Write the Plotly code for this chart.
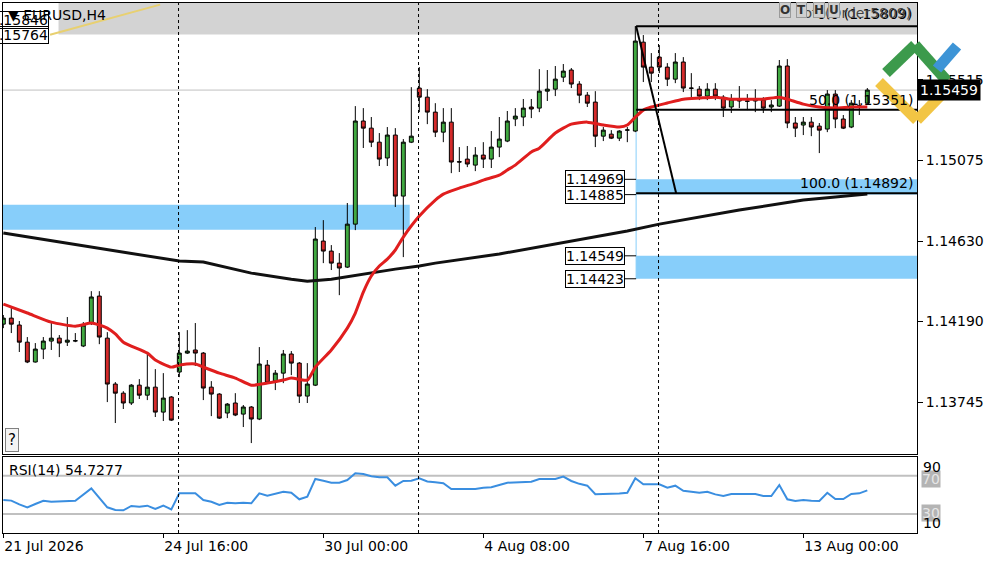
import plotly.graph_objects as go

# ---------------- data ----------------
bar_idx = list(range(109))
opens = [1.14174,1.14207,1.14169,1.14075,1.13966,1.14037,1.14081,1.14097,1.14075,1.14081,
         1.14054,1.14180,1.14328,1.14097,1.13845,1.13795,1.13741,1.13839,1.13784,1.13828,
         1.13691,1.13774,1.13911,1.14015,1.14032,1.14015,1.13828,1.13790,1.13686,1.13741,
         1.13680,1.13719,1.13653,1.13949,1.13861,1.13905,1.14010,1.13960,1.13779,1.13839,
         1.14630,1.14575,1.14509,1.14487,1.14723,1.15289,1.15250,1.15173,1.15086,1.15212,
         1.14877,1.15173,1.15470,1.15420,1.15338,1.15228,1.15283,1.15066,1.15080,1.15047,
         1.15102,1.15080,1.15146,1.15179,1.15300,1.15311,1.15366,1.15360,1.15453,1.15464,
         1.15530,1.15569,1.15492,1.15431,1.15393,1.15206,1.15217,1.15195,1.15239,1.15234,
         1.15722,1.15585,1.15640,1.15585,1.15519,1.15613,1.15470,1.15464,1.15426,1.15464,
         1.15420,1.15366,1.15410,1.15399,1.15399,1.15404,1.15366,1.15371,1.15591,1.15278,
         1.15267,1.15283,1.15261,1.15245,1.15437,1.15300,1.15256,1.15371,1.15387]
highs = [1.14224,1.14262,1.14191,1.14103,1.14070,1.14103,1.14180,1.14114,1.14213,1.14125,
         1.14185,1.14355,1.14355,1.14130,1.13856,1.13806,1.13845,1.13872,1.14010,1.13927,
         1.13905,1.13779,1.14130,1.14141,1.14180,1.14021,1.13861,1.13795,1.13741,1.13795,
         1.13730,1.13724,1.14048,1.13977,1.13922,1.14032,1.14026,1.13966,1.13960,1.14707,
         1.14745,1.14608,1.14564,1.14839,1.15371,1.15360,1.15311,1.15223,1.15256,1.15250,
         1.15190,1.15475,1.15585,1.15464,1.15387,1.15360,1.15360,1.15146,1.15152,1.15146,
         1.15173,1.15234,1.15311,1.15344,1.15360,1.15410,1.15410,1.15574,1.15569,1.15591,
         1.15602,1.15580,1.15508,1.15448,1.15453,1.15256,1.15239,1.15239,1.15256,1.15810,
         1.15761,1.15662,1.15706,1.15607,1.15662,1.15640,1.15552,1.15481,1.15497,1.15497,
         1.15431,1.15437,1.15481,1.15437,1.15464,1.15420,1.15404,1.15624,1.15629,1.15311,
         1.15311,1.15311,1.15278,1.15459,1.15459,1.15322,1.15404,1.15404,1.15470]
lows = [1.14152,1.14125,1.14021,1.13960,1.13963,1.13982,1.14032,1.13993,1.14054,1.14075,
        1.14048,1.14169,1.14064,1.13746,1.13631,1.13708,1.13730,1.13763,1.13757,1.13664,
        1.13642,1.13642,1.13883,1.14010,1.13944,1.13757,1.13669,1.13653,1.13658,1.13669,
        1.13609,1.13521,1.13647,1.13845,1.13812,1.13850,1.13894,1.13741,1.13741,1.13834,
        1.14509,1.14471,1.14333,1.14482,1.14690,1.15141,1.15146,1.15042,1.15042,1.14817,
        1.14542,1.15168,1.15338,1.15272,1.15201,1.15173,1.15003,1.15009,1.15036,1.15014,
        1.15031,1.15031,1.15091,1.15173,1.15261,1.15261,1.15305,1.15338,1.15399,1.15426,
        1.15503,1.15470,1.15387,1.15366,1.15146,1.15179,1.15190,1.15179,1.15173,1.15228,
        1.15503,1.15503,1.15552,1.15481,1.15497,1.15448,1.15420,1.15404,1.15404,1.15404,
        1.15311,1.15333,1.15360,1.15349,1.15338,1.15333,1.15338,1.15366,1.15250,1.15201,
        1.15212,1.15206,1.15113,1.15228,1.15250,1.15245,1.15250,1.15322,1.15387]
closes = [1.14207,1.14174,1.14075,1.13966,1.14037,1.14081,1.14097,1.14070,1.14086,1.14083,
          1.14169,1.14323,1.14103,1.13845,1.13795,1.13741,1.13839,1.13784,1.13828,1.13691,
          1.13768,1.13647,1.14015,1.14026,1.14015,1.13823,1.13790,1.13658,1.13735,1.13675,
          1.13719,1.13653,1.13955,1.13850,1.13905,1.14010,1.13960,1.13779,1.13845,1.14641,
          1.14575,1.14509,1.14482,1.14723,1.15289,1.15250,1.15173,1.15080,1.15212,1.14877,
          1.15173,1.15206,1.15420,1.15338,1.15228,1.15283,1.15064,1.15064,1.15053,1.15102,
          1.15080,1.15146,1.15190,1.15289,1.15316,1.15360,1.15355,1.15453,1.15464,1.15519,
          1.15563,1.15492,1.15431,1.15387,1.15206,1.15239,1.15195,1.15234,1.15240,1.15728,
          1.15585,1.15552,1.15585,1.15519,1.15613,1.15470,1.15469,1.15426,1.15464,1.15426,
          1.15360,1.15410,1.15399,1.15398,1.15410,1.15360,1.15377,1.15591,1.15278,1.15250,
          1.15283,1.15256,1.15239,1.15437,1.15300,1.15250,1.15387,1.15372,1.15459]

ma_fast_idx = [0,3,6,9,11,12,13,14,15,18,19,21,22,24,25,27,29,31,33,35,36,38,39,41,43,44,45,46,47,48,
               49,50,52,54,55,57,59,60,62,63,64,66,67,69,71,73,75,77,78,79,80,81,83,85,87,89,91,93,95,
               97,98,100,102,104,106,108]
ma_fast = [1.14284,1.14235,1.14185,1.14163,1.14180,1.14169,1.14152,1.14120,1.14075,1.14015,1.13977,
           1.13938,1.13949,1.13955,1.13938,1.13905,1.13878,1.13839,1.13850,1.13867,1.13878,1.13867,
           1.13938,1.14032,1.14152,1.14235,1.14350,1.14438,1.14493,1.14531,1.14581,1.14652,1.14767,
           1.14855,1.14888,1.14921,1.14948,1.14965,1.14992,1.15020,1.15047,1.15119,1.15140,1.15223,
           1.15272,1.15283,1.15267,1.15256,1.15267,1.15311,1.15349,1.15366,1.15388,1.15409,1.15415,
           1.15420,1.15409,1.15409,1.15409,1.15420,1.15409,1.15382,1.15366,1.15360,1.15366,1.15366]

ma_slow_idx = [0,8,16,22,25,31,36,38,41,45,49,52,54,62,70,78,82,87,92,100,108]
ma_slow = [1.14674,1.14619,1.14564,1.14520,1.14515,1.14454,1.14421,1.14410,1.14421,1.14449,1.14476,
           1.14493,1.14509,1.14559,1.14624,1.14685,1.14723,1.14762,1.14800,1.14855,1.14888]

rsi_idx = [0,1,2,3,4,5,6,9,11,13,14,15,16,17,18,19,20,21,22,24,25,26,27,28,29,30,31,32,33,34,35,36,
           37,38,39,40,41,42,43,44,45,46,47,48,49,50,51,52,53,54,55,56,58,59,60,61,62,63,66,67,69,70,
           71,72,73,74,75,76,77,78,79,80,81,82,83,84,85,86,87,88,89,90,91,92,93,94,95,96,97,98,99,
           100,101,102,103,104,105,106,107,108]
rsi = [44.6,44.0,40.0,37.0,40.5,43.9,42.8,43.9,56.8,37.0,34.2,33.9,38.4,37.6,38.7,35.2,38.7,34.9,
       51.6,51.6,44.6,42.8,39.4,41.8,41.2,41.8,41.2,51.6,49.1,51.6,53.3,52.3,45.4,48.1,66.6,64.8,
       62.7,62.7,65.5,72.5,71.8,69.5,68.3,68.3,59.6,64.5,64.8,67.3,64.0,63.1,62.1,56.1,56.1,56.1,
       57.5,57.9,60.3,62.7,63.7,66.6,66.6,69.0,64.5,61.5,59.6,50.6,50.9,50.9,51.5,52.2,67.3,61.0,
       61.0,61.0,57.5,59.6,54.3,53.0,52.2,53.3,50.5,48.8,50.9,50.9,50.9,50.9,48.8,48.8,60.3,45.4,
       43.6,44.6,43.9,43.6,52.2,45.7,45.7,50.9,51.6,54.7]

price_ticks = [1.13745, 1.14190, 1.14630, 1.15075, 1.15515]
price_ticktext = ["1.13745", "1.14190", "1.14630", "1.15075", "1.15515"]
date_ticks = [0, 20, 40, 60, 80, 100]
date_labels = ["21 Jul 2026", "24 Jul 16:00", "30 Jul 00:00", "4 Aug 08:00", "7 Aug 16:00", "13 Aug 00:00"]
week_separators = [22, 52, 82]

last_price = 1.15459
fib_start_idx, fib_end_idx = 79.1, 84.1
fib_high, fib_mid, fib_low = 1.15810, 1.15351, 1.14892
zone_left = (1.14692, 1.14829)
zone_right_a = (1.14885, 1.14969)
zone_right_b = (1.14423, 1.14549)
gray_zone_low = 1.15764
top_labels = [1.15846, 1.15764]
rsi_levels = [70, 30]

FONT = "DejaVu Sans"
GREEN = "#41a941"
RED = "#d42a2a"

# ---------------- geometry helpers (paper coords) ----------------
PL, PR, PT, PB = 3, 917, 3, 533
def px(x):
    return (x - PL) / (PR - PL)
def py(y):
    return 1 - (y - PT) / (PB - PT)

fig = go.Figure()

fig.add_trace(go.Candlestick(
    x=bar_idx, open=opens, high=highs, low=lows, close=closes,
    increasing=dict(fillcolor=GREEN, line=dict(color="black", width=1)),
    decreasing=dict(fillcolor=RED, line=dict(color="black", width=1)),
    whiskerwidth=0, xaxis="x", yaxis="y", showlegend=False, hoverinfo="skip"))

fig.add_trace(go.Scatter(x=ma_slow_idx, y=ma_slow, mode="lines",
                         line=dict(color="#111111", width=3), xaxis="x", yaxis="y",
                         showlegend=False, hoverinfo="skip"))
fig.add_trace(go.Scatter(x=ma_fast_idx, y=ma_fast, mode="lines",
                         line=dict(color="#e01e1e", width=3, shape="spline", smoothing=0.6),
                         xaxis="x", yaxis="y", showlegend=False, hoverinfo="skip"))
fig.add_trace(go.Scatter(x=rsi_idx, y=rsi, mode="lines",
                         line=dict(color="#3a8ee0", width=2), xaxis="x2", yaxis="y2",
                         showlegend=False, hoverinfo="skip"))

shapes = []
# background zones
shapes.append(dict(type="rect", xref="x", yref="y", x0=6.9, x1=130, y0=gray_zone_low, y1=1.1600,
                   fillcolor="#d3d3d3", line=dict(width=0), layer="below"))
shapes.append(dict(type="rect", xref="x", yref="y", x0=-2, x1=50.8, y0=zone_left[0], y1=zone_left[1],
                   fillcolor="#87cefa", line=dict(width=0), layer="below"))
for z in (zone_right_a, zone_right_b):
    shapes.append(dict(type="rect", xref="x", yref="y", x0=fib_start_idx, x1=130, y0=z[0], y1=z[1],
                       fillcolor="#87cefa", line=dict(width=0), layer="below"))
shapes.append(dict(type="line", xref="x", yref="y", x0=fib_start_idx, x1=fib_start_idx,
                   y0=1.15228, y1=zone_right_b[0], line=dict(color="#87cefa", width=1), layer="below"))
# current price line
shapes.append(dict(type="line", xref="paper", yref="y", x0=0, x1=1, y0=last_price, y1=last_price,
                   line=dict(color="#c0c0c0", width=1), layer="below"))
# yellow trend line
shapes.append(dict(type="line", xref="x", yref="y", x0=5.84, x1=19.6, y0=1.15763, y1=1.15928,
                   line=dict(color="#e8d070", width=2)))
# week separators
for s in week_separators:
    shapes.append(dict(type="line", xref="x", yref="paper", x0=s - 0.1, x1=s - 0.1, y0=0, y1=1,
                       line=dict(color="black", width=1, dash="3px,3px")))
# fibonacci
for lv in (fib_high, fib_mid, fib_low):
    shapes.append(dict(type="line", xref="x", yref="y", x0=fib_start_idx, x1=130, y0=lv, y1=lv,
                       line=dict(color="black", width=2)))
shapes.append(dict(type="line", xref="x", yref="y", x0=fib_start_idx, x1=fib_end_idx,
                   y0=fib_high, y1=fib_low, line=dict(color="black", width=2)))
# label tick lines
for lv in (zone_right_a[1], zone_right_a[0], zone_right_b[1], zone_right_b[0]):
    shapes.append(dict(type="line", xref="x", yref="y", x0=fib_start_idx - 1.4, x1=fib_start_idx,
                       y0=lv, y1=lv, line=dict(color="black", width=1)))
# RSI levels
for lv in rsi_levels:
    shapes.append(dict(type="line", xref="paper", yref="y2", x0=0, x1=1, y0=lv, y1=lv,
                       line=dict(color="#c0c0c0", width=2), layer="below"))
# logo
def seg(x0, y0, x1, y1, color):
    return dict(type="line", xref="paper", yref="paper", x0=px(x0), y0=py(y0), x1=px(x1), y1=py(y1),
                line=dict(color=color, width=11))
shapes += [
    seg(879, 82, 917, 120, "#f2c544"), seg(917, 120, 948, 88, "#f2c544"),
    seg(886, 73, 915, 45, "#3c9a4c"), seg(915, 45, 947, 81, "#3c9a4c"),
    seg(937, 69, 957, 46, "#3d94d6"),
]

ann = []
# top-left title and price labels
ann.append(dict(text="▼ EURUSD,H4", xref="paper", yref="paper", x=px(6), y=py(15),
                xanchor="left", yanchor="middle", showarrow=False, font=dict(size=14, color="black")))
for lv in top_labels:
    ann.append(dict(text=f"{lv:.5f}", xref="paper", yref="y", x=px(49), y=lv, xanchor="right",
                    yanchor="middle", showarrow=False, bordercolor="black", borderwidth=1, borderpad=0,
                    font=dict(size=14, color="black")))
# zone labels
for lv in (zone_right_a[1], zone_right_a[0], zone_right_b[1], zone_right_b[0]):
    ann.append(dict(text=f"{lv:.5f}", xref="x", yref="y", x=fib_start_idx, y=lv, xanchor="right",
                    xshift=-11, yanchor="middle", showarrow=False, bordercolor="black", borderwidth=1,
                    borderpad=0, bgcolor="white", font=dict(size=14, color="black")))
# fib labels
ann.append(dict(text=f"50.0 ({fib_mid:.5f})", xref="paper", yref="y", x=1, xshift=-2, y=fib_mid,
                xanchor="right", yanchor="bottom", yshift=0, showarrow=False,
                font=dict(size=14, color="black")))
ann.append(dict(text=f"100.0 ({fib_low:.5f})", xref="paper", yref="y", x=1, xshift=-2, y=fib_low,
                xanchor="right", yanchor="bottom", yshift=0, showarrow=False,
                font=dict(size=14, color="black")))
ann.append(dict(text="0.0 (1.15809)", xref="paper", yref="y", x=1, xshift=-2, y=fib_high,
                xanchor="right", yanchor="bottom", yshift=2, showarrow=False,
                font=dict(size=14, color="black")))
ann.append(dict(text="Lots(Order5809)", xref="paper", yref="y", x=1, xshift=-4, y=fib_high,
                xanchor="right", yanchor="bottom", yshift=3, showarrow=False,
                font=dict(size=14, color="#444444")))
# OTHU buttons
for ch, cx in (("O", 785), ("T", 801.5), ("H", 818.5), ("U", 834)):
    ann.append(dict(text=f"<b>{ch}</b>", xref="paper", yref="paper", x=px(cx), y=py(10),
                    xanchor="center", yanchor="middle", showarrow=False, bgcolor="#cfcfcf",
                    bordercolor="#9a9a9a", borderwidth=1, borderpad=0,
                    font=dict(size=12, color="#333333")))
# current price label
ann.append(dict(text=f"{last_price:.5f}", xref="paper", yref="y", x=1, y=last_price, xanchor="left",
                yanchor="middle", showarrow=False, bgcolor="black", borderpad=2,
                font=dict(size=14, color="white")))
# help box
ann.append(dict(text="?", xref="paper", yref="paper", x=px(5), y=py(452), xanchor="left",
                yanchor="bottom", showarrow=False, bordercolor="#808080", borderwidth=1,
                bgcolor="#f4f4f4", borderpad=2, font=dict(size=15, color="black")))
# RSI texts
ann.append(dict(text="RSI(14) 54.7277", xref="paper", yref="paper", x=px(7), y=py(470),
                xanchor="left", yanchor="middle", showarrow=False, font=dict(size=14, color="black")))
for lv, dy in ((70, -3), (30, 1)):
    ann.append(dict(text=str(lv), xref="paper", yref="y2", x=1, xshift=4, y=lv, yshift=dy,
                    xanchor="left", yanchor="middle", showarrow=False, bgcolor="#b4b4b4",
                    borderpad=0, font=dict(size=14, color="#e6e6e6")))
for txt, lv in (("90", 79.1), ("10", 20.6)):
    ann.append(dict(text=txt, xref="paper", yref="y2", x=1, xshift=4, y=lv, xanchor="left",
                    yanchor="middle", showarrow=False, font=dict(size=14, color="black")))

axis_common = dict(showgrid=False, zeroline=False, showline=True, mirror=True,
                   linecolor="black", linewidth=1)

fig.update_layout(
    width=1000, height=562,
    margin=dict(l=PL, r=1000 - PR, t=PT, b=562 - PB),
    paper_bgcolor="white", plot_bgcolor="white",
    font=dict(family=FONT, size=14, color="black"),
    showlegend=False,
    xaxis=dict(domain=[0, 1], anchor="y", range=[-0.04, 114.21], showticklabels=False,
               ticks="", rangeslider=dict(visible=False), **axis_common),
    yaxis=dict(domain=[py(454), 1], anchor="x", side="right", range=[1.13461, 1.15937],
               tickvals=price_ticks, ticktext=price_ticktext, ticks="outside", ticklen=5,
               tickcolor="black", tickfont=dict(size=14), **axis_common),
    xaxis2=dict(domain=[0, 1], anchor="y2", matches="x", tickvals=date_ticks, ticktext=date_labels,
                ticks="outside", ticklen=4, tickcolor="black", ticklabelposition="outside right",
                tickfont=dict(size=14), **axis_common),
    yaxis2=dict(domain=[0, py(457)], anchor="x2", side="right", range=[10.2, 89.5],
                showticklabels=False, ticks="", **axis_common),
    shapes=shapes,
    annotations=ann,
)

fig.write_html("out.html", config={"displayModeBar": False},
               post_script="document.body.style.margin='0';document.body.style.overflow='hidden';")
